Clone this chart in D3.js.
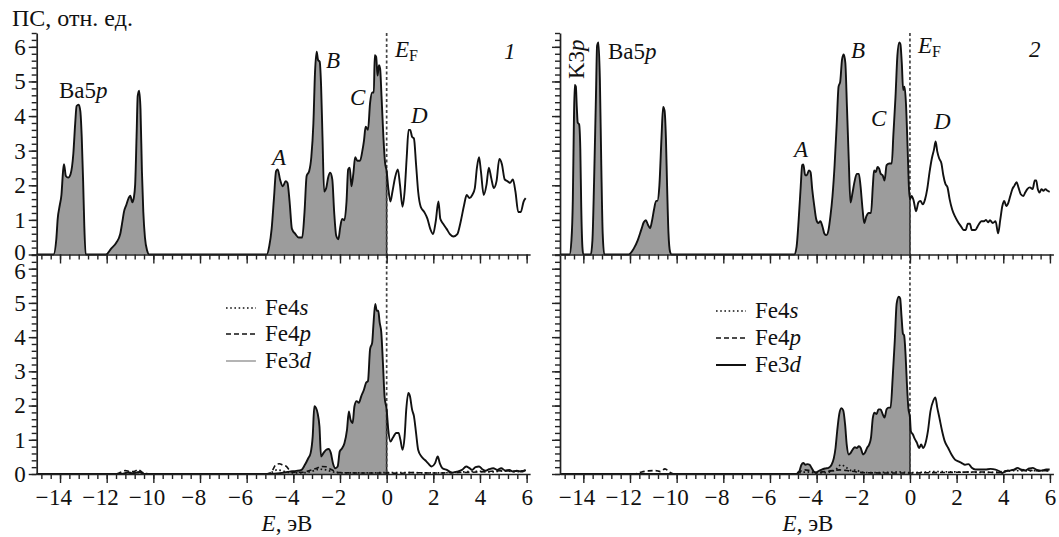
<!DOCTYPE html>
<html><head><meta charset="utf-8">
<script src="https://cdn.jsdelivr.net/npm/d3@7"></script>
<style>
body{margin:0;background:#fff}
svg{display:block}
</style>
</head><body>
<svg id="c" width="1059" height="537"></svg>
<script>
// ---------- DATA ----------
const xMajor = [-14,-12,-10,-8,-6,-4,-2,0,2,4,6];
const yMajor = [0,1,2,3,4,5,6];
const legendLabels = [["Fe4","s"],["Fe4","p"],["Fe3","d"]];
const panelNumbers = ["1","2"];
const peakLabels1 = ["A","B","C","D"];
const peakLabels2 = ["A","B","C","D"];

// panel 1, total DOS [E, value]
const total1 = [
[-15,0],[-14.28,0],[-14.16,0.44],[-14.10,1.03],[-14.01,1.43],[-13.94,1.72],[-13.87,2.41],[-13.83,2.61],[-13.75,2.27],[-13.65,2.22],[-13.55,2.32],[-13.43,2.91],[-13.35,3.79],[-13.29,4.29],[-13.20,4.33],[-13.13,4.14],[-13.07,3.40],[-13.01,2.12],[-12.96,0.84],[-12.90,0],
[-12.03,0],[-11.81,0.17],[-11.59,0.34],[-11.42,0.59],[-11.33,0.94],[-11.26,1.23],[-11.16,1.43],[-11.06,1.63],[-10.99,1.70],[-10.90,1.51],[-10.84,1.63],[-10.78,2.02],[-10.72,3.40],[-10.67,4.58],[-10.61,4.73],[-10.55,4.19],[-10.49,2.41],[-10.43,1.23],[-10.36,0.49],[-10.26,0.10],[-10.19,0],
[-5.14,0],[-5.03,0.25],[-4.93,0.74],[-4.83,1.63],[-4.74,2.41],[-4.67,2.46],[-4.57,2.17],[-4.45,1.97],[-4.33,2.12],[-4.25,2.07],[-4.16,1.53],[-4.06,0.74],[-3.91,0.59],[-3.77,0.49],[-3.62,0.49],[-3.52,1.23],[-3.43,2.27],[-3.32,2.41],[-3.23,2.81],[-3.14,3.79],[-3.07,5.27],[-3.00,5.86],[-2.94,5.62],[-2.87,5.57],[-2.81,4.88],[-2.75,3.40],[-2.68,1.82],[-2.59,1.92],[-2.51,2.22],[-2.42,2.36],[-2.33,2.17],[-2.25,1.23],[-2.16,0.54],[-2.07,0.44],[-1.99,0.79],[-1.91,1.03],[-1.81,0.99],[-1.72,1.53],[-1.65,2.46],[-1.58,2.51],[-1.51,1.97],[-1.43,2.32],[-1.35,2.81],[-1.26,2.71],[-1.14,2.71],[-1.04,3.00],[-0.97,3.30],[-0.90,3.69],[-0.80,3.60],[-0.71,4.38],[-0.62,4.68],[-0.55,4.68],[-0.51,5.76],[-0.45,5.71],[-0.39,5.17],[-0.33,5.47],[-0.28,5.37],[-0.22,4.58],[-0.14,3.40],[-0.07,2.66],[0,2.41],
[0.07,1.92],[0.16,1.53],[0.25,1.82],[0.36,2.22],[0.48,2.46],[0.57,2.02],[0.68,1.38],[0.77,1.82],[0.86,2.81],[0.94,3.60],[1.01,3.60],[1.09,3.40],[1.17,3.35],[1.26,2.61],[1.35,1.82],[1.46,1.38],[1.61,1.23],[1.75,1.03],[1.87,0.74],[1.99,0.59],[2.10,0.94],[2.22,1.53],[2.30,1.03],[2.42,0.89],[2.57,0.74],[2.71,0.59],[2.86,0.52],[3.03,0.59],[3.17,0.94],[3.32,1.43],[3.43,1.72],[3.55,1.63],[3.67,1.72],[3.78,1.92],[3.87,2.51],[3.96,2.81],[4.04,2.41],[4.16,1.72],[4.28,2.02],[4.38,2.51],[4.48,2.22],[4.59,1.92],[4.71,2.12],[4.83,2.76],[4.94,2.61],[5.06,2.17],[5.17,2.12],[5.29,2.07],[5.41,2.17],[5.52,1.82],[5.64,1.23],[5.75,1.23],[5.87,1.53],[5.96,1.63]
];

// panel 1, Fe partial DOS
const fe3d1 = [
[-15,0],[-11.4,0],[-11.1,0.04],[-10.85,0.02],[-10.6,0.06],[-10.4,0],[-5,0],[-4.59,0.02],[-4.16,0.07],[-3.87,0.09],[-3.65,0.12],[-3.51,0.26],[-3.36,0.46],[-3.26,0.61],[-3.17,1.10],[-3.10,1.98],[-3.03,1.93],[-2.96,1.78],[-2.88,1.39],[-2.81,0.51],[-2.71,0.61],[-2.59,0.71],[-2.49,0.73],[-2.39,0.61],[-2.30,0.31],[-2.20,0.17],[-2.10,0.22],[-2.01,0.66],[-1.91,0.75],[-1.81,0.90],[-1.70,1.29],[-1.62,1.83],[-1.55,1.59],[-1.46,1.49],[-1.38,1.98],[-1.29,2.13],[-1.19,2.08],[-1.09,2.27],[-0.97,2.47],[-0.88,2.67],[-0.80,2.72],[-0.71,3.65],[-0.62,3.84],[-0.57,4.33],[-0.49,4.97],[-0.42,4.77],[-0.36,4.77],[-0.30,4.43],[-0.23,4.14],[-0.16,3.25],[-0.09,2.27],[0,1.88],
[0.07,1.29],[0.16,0.95],[0.26,1.05],[0.41,1.20],[0.51,1.20],[0.59,1.00],[0.68,0.71],[0.77,1.10],[0.84,1.88],[0.93,2.37],[1.00,2.27],[1.09,1.88],[1.17,1.69],[1.26,1.20],[1.35,0.71],[1.49,0.51],[1.64,0.41],[1.78,0.31],[1.93,0.22],[2.07,0.31],[2.19,0.51],[2.28,0.31],[2.39,0.17],[2.58,0.12],[2.80,0.04],[3.01,0.07],[3.23,0.12],[3.41,0.22],[3.55,0.17],[3.67,0.12],[3.81,0.20],[3.96,0.22],[4.10,0.14],[4.25,0.10],[4.39,0.14],[4.57,0.17],[4.74,0.12],[4.91,0.17],[5.09,0.10],[5.26,0.12],[5.41,0.07],[5.58,0.10],[5.77,0.07],[5.96,0.12]
];
const fe4s1 = [
[-15,0],[-11.5,0],[-11.2,0.03],[-10.8,0.05],[-10.4,0.02],[-10,0],[-5.2,0],[-4.9,0.06],[-4.7,0.12],[-4.5,0.1],[-4.3,0.06],[-4.0,0.03],[-3.5,0.04],[-3.2,0.08],[-2.9,0.14],[-2.6,0.12],[-2.3,0.06],[-2,0.03],[-1,0.03],[0,0.04],[1,0.04],[2,0.03],[3,0.05],[3.5,0.07],[4,0.08],[4.5,0.06],[5,0.09],[5.5,0.07],[5.96,0.08]
];
const fe4p1 = [
[-15,0],[-11.6,0],[-11.4,0.05],[-11.2,0.1],[-11.0,0.07],[-10.8,0.08],[-10.65,0.13],[-10.5,0.06],[-10.3,0],[-5.1,0],[-4.9,0.1],[-4.75,0.27],[-4.6,0.3],[-4.45,0.26],[-4.3,0.22],[-4.15,0.1],[-4.0,0.05],[-3.6,0.05],[-3.3,0.1],[-3.0,0.17],[-2.8,0.22],[-2.6,0.21],[-2.4,0.14],[-2.2,0.07],[-2,0.04],[-1,0.03],[0,0.03],[0.5,0.02],[1,0.04],[2,0.03],[3,0.04],[4,0.06],[4.5,0.08],[5,0.1],[5.5,0.08],[5.96,0.1]
];

// panel 2, total DOS
const total2 = [
[-15,0],[-14.59,0],[-14.51,0.41],[-14.45,1.60],[-14.41,3.57],[-14.37,4.90],[-14.32,4.85],[-14.28,4.26],[-14.24,3.81],[-14.18,3.76],[-14.13,3.07],[-14.09,1.40],[-14.04,0.22],[-14.00,0],
[-13.68,0],[-13.61,0.41],[-13.54,2.09],[-13.46,4.55],[-13.41,6.03],[-13.35,6.13],[-13.29,5.04],[-13.23,2.58],[-13.17,0.61],[-13.10,0],
[-12.06,0],[-11.84,0.17],[-11.67,0.41],[-11.52,0.71],[-11.41,0.93],[-11.32,0.99],[-11.23,0.86],[-11.14,0.76],[-11.06,0.96],[-10.97,1.30],[-10.88,1.55],[-10.83,1.55],[-10.74,1.99],[-10.65,3.37],[-10.58,4.26],[-10.52,4.16],[-10.46,3.37],[-10.41,1.99],[-10.35,0.61],[-10.28,0.07],[-10.22,0],
[-4.96,0],[-4.86,0.22],[-4.77,1.00],[-4.68,1.99],[-4.62,2.58],[-4.57,2.60],[-4.49,2.29],[-4.42,2.29],[-4.33,2.43],[-4.26,2.38],[-4.19,1.89],[-4.10,1.40],[-4.01,1.00],[-3.93,0.91],[-3.84,0.96],[-3.75,0.81],[-3.67,0.61],[-3.58,0.56],[-3.49,0.71],[-3.41,1.10],[-3.32,1.69],[-3.23,2.58],[-3.14,3.76],[-3.06,4.85],[-2.99,4.99],[-2.91,5.64],[-2.84,5.78],[-2.77,5.54],[-2.70,4.26],[-2.62,2.68],[-2.55,1.50],[-2.46,1.79],[-2.38,2.09],[-2.28,2.33],[-2.19,2.33],[-2.12,1.99],[-2.03,1.30],[-1.96,0.91],[-1.87,1.10],[-1.77,1.20],[-1.67,1.20],[-1.59,1.99],[-1.54,2.43],[-1.46,2.38],[-1.39,2.53],[-1.32,2.48],[-1.25,2.33],[-1.17,2.29],[-1.09,2.14],[-1.00,2.58],[-0.88,2.63],[-0.78,2.63],[-0.71,3.47],[-0.62,4.55],[-0.54,5.73],[-0.46,6.13],[-0.41,6.08],[-0.35,5.54],[-0.29,4.75],[-0.23,4.85],[-0.17,4.35],[-0.10,3.07],[-0.04,1.89],[0,1.60],
[0.07,1.69],[0.16,1.55],[0.26,1.25],[0.36,1.50],[0.45,1.55],[0.55,1.45],[0.65,1.60],[0.74,1.89],[0.84,2.38],[0.94,2.78],[1.03,3.03],[1.10,3.27],[1.17,2.98],[1.25,2.78],[1.35,2.63],[1.43,2.29],[1.52,2.04],[1.61,1.94],[1.70,1.60],[1.81,1.30],[1.93,1.10],[2.04,0.96],[2.19,0.81],[2.30,0.71],[2.39,0.71],[2.48,0.89],[2.57,0.89],[2.65,0.71],[2.80,0.71],[2.94,0.86],[3.06,0.96],[3.17,0.96],[3.26,1.00],[3.35,0.93],[3.43,0.99],[3.55,0.91],[3.67,0.96],[3.78,0.61],[3.87,1.00],[3.96,1.40],[4.04,1.55],[4.13,1.40],[4.22,1.50],[4.30,1.69],[4.39,1.89],[4.48,1.99],[4.57,2.09],[4.65,1.94],[4.75,1.74],[4.86,1.69],[4.94,1.79],[5.03,1.89],[5.14,1.94],[5.26,1.89],[5.35,2.14],[5.41,2.14],[5.48,1.89],[5.55,1.79],[5.64,1.89],[5.72,1.84],[5.81,1.89],[5.90,1.84],[5.99,1.81]
];

// panel 2, Fe partial DOS
const fe3d2 = [
[-15,0],[-4.85,0],[-4.74,0.08],[-4.65,0.27],[-4.57,0.32],[-4.48,0.27],[-4.39,0.29],[-4.30,0.27],[-4.22,0.18],[-4.13,0.08],[-4.04,0.03],[-3.93,0.08],[-3.78,0.13],[-3.64,0.16],[-3.49,0.18],[-3.36,0.27],[-3.26,0.47],[-3.19,0.76],[-3.12,1.25],[-3.03,1.75],[-2.94,1.92],[-2.86,1.86],[-2.78,1.45],[-2.71,0.86],[-2.62,0.57],[-2.54,0.62],[-2.45,0.72],[-2.36,0.78],[-2.28,0.76],[-2.19,0.81],[-2.11,0.76],[-2.01,0.57],[-1.93,0.62],[-1.84,0.76],[-1.75,0.86],[-1.67,1.06],[-1.59,1.65],[-1.52,1.79],[-1.43,1.75],[-1.35,1.89],[-1.26,1.89],[-1.17,1.75],[-1.09,1.65],[-1.00,1.89],[-0.91,1.94],[-0.83,1.94],[-0.74,2.82],[-0.65,3.90],[-0.57,4.98],[-0.48,5.18],[-0.42,5.13],[-0.36,4.59],[-0.30,4.10],[-0.25,4.05],[-0.19,3.51],[-0.13,2.63],[-0.07,1.94],[0,1.65],
[0.04,1.25],[0.12,1.16],[0.22,1.01],[0.30,0.91],[0.39,0.76],[0.48,0.86],[0.57,0.76],[0.65,0.86],[0.77,1.25],[0.88,1.84],[1.00,2.14],[1.09,2.24],[1.17,1.94],[1.26,1.65],[1.38,1.25],[1.49,0.96],[1.64,0.76],[1.78,0.57],[1.93,0.42],[2.07,0.37],[2.22,0.32],[2.36,0.27],[2.51,0.29],[2.65,0.18],[2.80,0.13],[3.01,0.13],[3.23,0.13],[3.45,0.15],[3.67,0.13],[3.84,0.08],[3.96,0.03],[4.10,0.08],[4.25,0.10],[4.46,0.13],[4.61,0.18],[4.75,0.13],[4.90,0.10],[5.12,0.16],[5.26,0.18],[5.41,0.13],[5.62,0.10],[5.84,0.13],[5.99,0.13]
];
const fe4s2 = [
[-15,0],[-5,0],[-4.7,0.04],[-4.4,0.06],[-4,0.03],[-3.5,0.05],[-3.2,0.12],[-2.95,0.27],[-2.75,0.2],[-2.5,0.1],[-2.3,0.12],[-2.1,0.05],[-1.5,0.04],[-1,0.05],[-0.5,0.06],[0,0.04],[0.5,0.05],[1,0.07],[2,0.06],[3,0.05],[3.5,0.05],[4,0.07],[4.5,0.1],[5,0.09],[5.5,0.1],[5.99,0.09]
];
const fe4p2 = [
[-15,0],[-11.8,0],[-11.5,0.06],[-11.2,0.09],[-10.9,0.1],[-10.7,0.07],[-10.5,0.15],[-10.3,0.05],[-10.1,0],[-5,0],[-4.7,0.08],[-4.5,0.12],[-4.3,0.1],[-4.0,0.05],[-3.5,0.08],[-3.0,0.12],[-2.7,0.1],[-2.3,0.06],[-2,0.04],[-1,0.03],[0,0.03],[1,0.04],[2,0.05],[3,0.06],[3.8,0.04],[4.2,0.1],[4.6,0.13],[5,0.12],[5.5,0.09],[5.99,0.1]
];

// ---------- DRAWING ----------
const FONT = '"Liberation Serif", serif';
const FS = 23;
const svg = d3.select('#c');
const FILL = '#9c9c9c';
const PX_PER_EV = 23.33;
const E_MIN = -15, E_MAX = 6.15;
const topY = [254.5, 33], botY = [474, 255];
const minorX = d3.range(-37, 16).map(i => +(i * 0.4).toFixed(2));
const minorY = d3.range(0, 33).map(i => +(i * 0.2).toFixed(2));

const panels = [
  {x0: 36.7, total: total1, fe3d: fe3d1, fe4s: fe4s1, fe4p: fe4p1, yLabels: true, num: panelNumbers[0],
   numPos: [504, 59], efPos: [395, 57], legX: 226, legY: [308, 334, 361], legText: 265, fe3dLeg: {c:'#777', w:1.1},
   xTitle: 287,
   peaks: [[peakLabels1[0],272,165],[peakLabels1[1],326,68],[peakLabels1[2],350,105],[peakLabels1[3],411,123]],
   ba: [59, 98]},
  {x0: 560, total: total2, fe3d: fe3d2, fe4s: fe4s2, fe4p: fe4p2, yLabels: false, num: panelNumbers[1],
   numPos: [1029, 57], efPos: [918, 53], legX: 716, legY: [311, 338, 365], legText: 755, fe3dLeg: {c:'#111', w:2},
   xTitle: 808,
   peaks: [[peakLabels2[0],794,157],[peakLabels2[1],851,58],[peakLabels2[2],871,126],[peakLabels2[3],934,129]],
   ba: [608, 59], k3p: [584, 79]}
];

function italicLabel(g, x, y, txt, size) {
  return g.append('text').attr('x', x).attr('y', y).attr('font-size', size).attr('font-style', 'italic').text(txt);
}

panels.forEach(p => {
  const x = d3.scaleLinear().domain([E_MIN, E_MAX]).range([p.x0, p.x0 + (E_MAX - E_MIN) * PX_PER_EV]);
  const yT = d3.scaleLinear().domain([0, 6.4]).range(topY);
  const yB = d3.scaleLinear().domain([0, 6.4]).range(botY);
  const g = svg.append('g');

  const drawDos = (data, y) => {
    const neg = data.filter(d => d[0] <= 0);
    const v0 = neg[neg.length - 1][1];
    g.append('path').datum(neg)
      .attr('d', d3.area().curve(d3.curveMonotoneX).x(d => x(d[0])).y0(y(0)).y1(d => y(d[1])))
      .attr('fill', FILL).attr('stroke', 'none');
    g.append('line').attr('x1', x(0)).attr('x2', x(0)).attr('y1', y(0)).attr('y2', y(v0))
      .attr('stroke', '#222').attr('stroke-width', 1.5);
  };
  drawDos(p.total, yT);
  drawDos(p.fe3d, yB);

  // Fermi level dashed lines
  g.append('line').attr('x1', x(0)).attr('x2', x(0)).attr('y1', yT(6.4)).attr('y2', yT(0))
    .attr('stroke', '#444').attr('stroke-width', 1.7).attr('stroke-dasharray', '3,2.5');
  g.append('line').attr('x1', x(0)).attr('x2', x(0)).attr('y1', yB(6.4)).attr('y2', yB(0))
    .attr('stroke', '#444').attr('stroke-width', 1.7).attr('stroke-dasharray', '3,2.5');

  const line = y => d3.line().curve(d3.curveMonotoneX).x(d => x(d[0])).y(d => y(d[1]));
  g.append('path').datum(p.total).attr('d', line(yT)).attr('fill', 'none').attr('stroke', '#111').attr('stroke-width', 1.9).attr('stroke-linejoin','round');
  g.append('path').datum(p.fe4s).attr('d', line(yB)).attr('fill', 'none').attr('stroke', '#111').attr('stroke-width', 1.7).attr('stroke-dasharray', '1.6,2.6');
  g.append('path').datum(p.fe4p).attr('d', line(yB)).attr('fill', 'none').attr('stroke', '#111').attr('stroke-width', 1.6).attr('stroke-dasharray', '5,3');
  g.append('path').datum(p.fe3d).attr('d', line(yB)).attr('fill', 'none').attr('stroke', '#111').attr('stroke-width', 1.9).attr('stroke-linejoin','round');

  // axes
  const styleAxis = a => { a.attr('font-family', null);
                           a.selectAll('.domain').attr('stroke', '#222').attr('stroke-width', 1.7);
                           a.selectAll('.tick line').attr('stroke', '#222').attr('stroke-width', 1.4); };
  [[yT, 254.5, false], [yB, 474, true]].forEach(([y, yy, labels]) => {
    const a1 = g.append('g').attr('transform', `translate(0,${yy})`)
      .call(d3.axisBottom(x).tickValues(minorX).tickSize(5).tickSizeOuter(0).tickFormat(''));
    styleAxis(a1);
    const a2 = g.append('g').attr('transform', `translate(0,${yy})`)
      .call(d3.axisBottom(x).tickValues(xMajor).tickSize(9).tickSizeOuter(0).tickPadding(6)
        .tickFormat(labels ? (d => String(Math.abs(d))) : ''));
    styleAxis(a2);
    a2.selectAll('.domain').remove();
    if (labels) {
      a2.selectAll('.tick text').attr('font-size', FS).style('font-family', FONT).attr('fill', '#111');
      a2.selectAll('.tick').each(function(d) {
        if (d < 0) {
          const t = d3.select(this).select('text');
          const w = t.node().getComputedTextLength();
          d3.select(this).append('text').attr('x', -w / 2 - 0.5).attr('y', t.attr('y')).attr('dy', t.attr('dy'))
            .attr('text-anchor', 'end').attr('font-size', FS).style('font-family', FONT).attr('fill', '#111').text('\u2212');
        }
      });
    }
  });
  [[yT, -2, 0], [yB, 0, 2]].forEach(([y, dz, dsix]) => {
    const a1 = g.append('g').attr('transform', `translate(${p.x0},0)`)
      .call(d3.axisLeft(y).tickValues(minorY).tickSize(5).tickSizeOuter(0).tickFormat(''));
    styleAxis(a1);
    const a2 = g.append('g').attr('transform', `translate(${p.x0},0)`)
      .call(d3.axisLeft(y).tickValues(yMajor).tickSize(8).tickSizeOuter(0).tickPadding(3)
        .tickFormat(p.yLabels ? d3.format('d') : ''));
    a2.selectAll('.domain').remove();
    styleAxis(a2);
    a2.selectAll('.tick text').attr('font-size', FS).attr('fill', '#111')
      .attr('y', d => d === 0 ? dz : (d === 6 ? dsix : 0));
  });

  // E_F label
  const ef = g.append('text').attr('x', p.efPos[0]).attr('y', p.efPos[1]).attr('font-size', FS);
  ef.append('tspan').attr('font-style', 'italic').text('E');
  ef.append('tspan').attr('font-size', 16).attr('dy', 4).text('F');
  italicLabel(g, p.numPos[0], p.numPos[1], p.num, FS);
  p.peaks.forEach(([t, px, py]) => italicLabel(g, px, py, t, FS));

  const ba = g.append('text').attr('x', p.ba[0]).attr('y', p.ba[1]).attr('font-size', FS);
  ba.append('tspan').text('Ba5');
  ba.append('tspan').attr('font-style', 'italic').text('p');
  if (p.k3p) {
    const k = g.append('text').attr('transform', `translate(${p.k3p[0]},${p.k3p[1]}) rotate(-90)`).attr('font-size', FS);
    k.append('tspan').text('K3');
    k.append('tspan').attr('font-style', 'italic').text('p');
  }

  // legend
  const dashes = ['1.6,2.6', '5,3', null];
  legendLabels.forEach((lab, i) => {
    const ly = p.legY[i];
    const ln = g.append('line').attr('x1', p.legX).attr('x2', p.legX + 30).attr('y1', ly).attr('y2', ly)
      .attr('stroke', i === 2 ? p.fe3dLeg.c : '#111').attr('stroke-width', i === 2 ? p.fe3dLeg.w : 1.7);
    if (dashes[i]) ln.attr('stroke-dasharray', dashes[i]);
    const t = g.append('text').attr('x', p.legText).attr('y', ly + 7).attr('font-size', FS);
    t.append('tspan').text(lab[0]);
    t.append('tspan').attr('font-style', 'italic').text(lab[1]);
  });

  // x title
  const xt = g.append('text').attr('x', p.xTitle).attr('y', 531).attr('font-size', FS).attr('text-anchor', 'middle');
  xt.append('tspan').attr('font-style', 'italic').text('E');
  xt.append('tspan').text(', эВ');
});

svg.append('text').attr('x', 12).attr('y', 26).attr('font-size', 24).text('ПС, отн. ед.');
svg.selectAll('text').style('font-family', FONT).attr('fill', '#111');
</script>
</body></html>
